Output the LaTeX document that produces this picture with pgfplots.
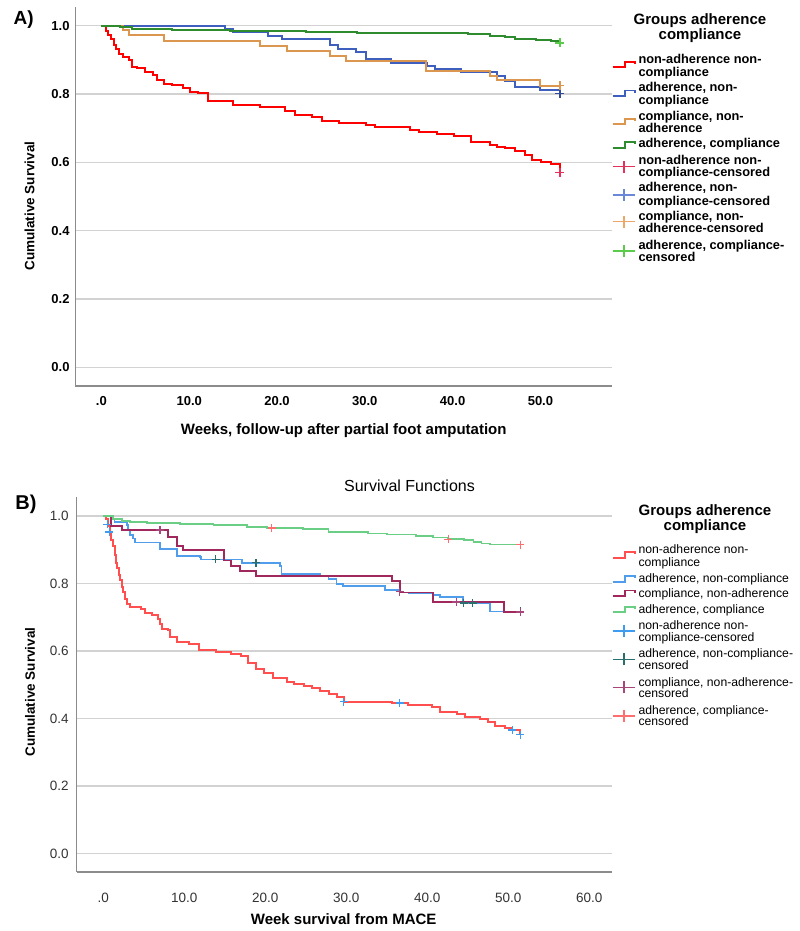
\documentclass[border=0pt]{standalone}
\usepackage{pgfplots}
\usepackage{pgfplotstable}
\pgfplotsset{compat=1.18}
\usepackage{fontspec}
\setmainfont{Liberation Sans}

\definecolor{axisgray}{HTML}{8C8C8C}
\definecolor{gridgray}{HTML}{D2D2D2}
% top colours
\definecolor{tred}{HTML}{FF0000}
\definecolor{tblue}{HTML}{3F5FBF}
\definecolor{torange}{HTML}{DB9650}
\definecolor{tgreen}{HTML}{2E8B2E}
\definecolor{tcred}{HTML}{E6305A}
\definecolor{tcblue}{HTML}{6A88D8}
\definecolor{tcorange}{HTML}{EDA868}
\definecolor{tcgreen}{HTML}{5ACB4A}
% bottom colours
\definecolor{bred}{HTML}{FF4F4F}
\definecolor{bblue}{HTML}{4F9DEB}
\definecolor{bmaroon}{HTML}{A0285C}
\definecolor{bgreen}{HTML}{6ACF85}
\definecolor{bclblue}{HTML}{3D9CF0}
\definecolor{bcteal}{HTML}{2A6F70}
\definecolor{bcmaroon}{HTML}{A8457A}
\definecolor{bcsalmon}{HTML}{FF6E6E}

\pgfplotstableread{
t S
0 1.0
0.5 0.985
0.8 0.972
1.1 0.962
1.4 0.943
1.7 0.933
2.0 0.918
2.5 0.909
3.1 0.899
3.5 0.880
4.0 0.875
5.0 0.865
5.9 0.855
6.3 0.841
7.1 0.831
8.0 0.826
9.3 0.818
10.1 0.807
11.0 0.802
12.1 0.779
15.0 0.768
18.1 0.761
20.9 0.750
22.0 0.740
24.0 0.734
25.1 0.722
27.1 0.716
30.1 0.709
31.2 0.703
35.1 0.695
36.2 0.690
37.0 0.688
38.2 0.683
40.1 0.677
42.1 0.659
44.2 0.651
45.1 0.646
46.0 0.641
47.1 0.632
48.2 0.622
49.0 0.607
50.1 0.600
51.2 0.596
52.2 0.571
}\topred

\pgfplotstableread{
t S
0 1.0
14.1 0.990
15.0 0.981
19.0 0.971
20.6 0.961
26.0 0.944
27.0 0.933
29.0 0.922
30.1 0.902
33.0 0.892
37.1 0.882
38.0 0.873
41.0 0.864
45.0 0.852
46.0 0.838
47.1 0.822
49.9 0.812
52.2 0.801
}\topblue

\pgfplotstableread{
t S
0 1.0
2.5 0.987
3.1 0.972
7.1 0.956
18.1 0.941
21.1 0.927
26.0 0.912
27.9 0.897
37.0 0.867
44.2 0.853
45.1 0.840
49.9 0.825
52.2 0.825
}\toporange

\pgfplotstableread{
t S
0 1.0
2.1 0.996
3.5 0.991
8.0 0.988
14.6 0.986
19.0 0.984
23.3 0.982
29.1 0.980
34.2 0.978
41.8 0.975
44.2 0.971
46.0 0.966
47.1 0.962
49.5 0.958
51.2 0.955
52.2 0.952
}\topgreen

\pgfplotstableread{
t S
0 1.0
0.4 0.99
0.6 0.97
0.8 0.95
1.0 0.93
1.2 0.91
1.4 0.885
1.6 0.86
1.75 0.845
1.9 0.825
2.1 0.81
2.3 0.79
2.5 0.775
2.7 0.755
2.9 0.74
3.3 0.730
4.7 0.724
5.1 0.711
6.0 0.706
6.8 0.696
7.0 0.680
7.3 0.666
8.0 0.661
8.2 0.642
9.1 0.627
10.6 0.620
11.8 0.604
13.9 0.597
15.8 0.592
17.0 0.586
17.9 0.563
18.8 0.546
19.8 0.535
20.9 0.519
22.7 0.508
23.6 0.501
24.8 0.495
25.8 0.489
26.8 0.480
27.9 0.472
28.8 0.462
29.7 0.450
35.7 0.446
37.6 0.441
40.6 0.434
41.6 0.419
43.7 0.412
44.6 0.404
46.5 0.399
47.5 0.389
48.4 0.377
49.6 0.372
50.5 0.366
51.5 0.352
}\botred

\pgfplotstableread{
t S
0 1.0
1.0 0.990
1.4 0.982
2.9 0.972
3.1 0.957
3.3 0.943
3.7 0.933
3.9 0.921
7.0 0.901
9.1 0.881
11.9 0.878
12.1 0.871
17.1 0.861
21.8 0.852
22.0 0.829
26.8 0.822
27.8 0.814
28.8 0.799
29.6 0.792
34.8 0.780
36.6 0.773
37.7 0.770
40.7 0.765
41.6 0.760
44.4 0.742
47.7 0.717
51.5 0.717
}\botblue

\pgfplotstableread{
t S
0 1.0
1.0 0.970
2.3 0.958
8.0 0.938
9.1 0.911
9.9 0.898
14.9 0.868
15.8 0.852
16.9 0.836
18.85 0.822
35.6 0.806
36.6 0.773
40.7 0.745
49.5 0.715
51.5 0.715
}\botmaroon

\pgfplotstableread{
t S
0 1.0
1.2 0.990
2.3 0.985
3.3 0.982
5.4 0.980
9.5 0.977
13.6 0.974
15.6 0.972
17.7 0.967
20.2 0.964
24.7 0.960
27.8 0.952
32.7 0.948
35.0 0.945
38.6 0.941
40.7 0.936
42.6 0.931
44.5 0.928
45.7 0.923
46.7 0.918
47.7 0.915
51.5 0.915
}\botgreen

\newcommand\fs[1]{\fontsize{#1bp}{#1bp}\selectfont}
\newcommand\legT{\bfseries\fs{12.8}}
\newcommand\legB{\fs{12.2}}
% legend text line: font, centre py, text
\newcommand\lt[3]{\node[anchor=base west,inner sep=0pt,font=#1] at (638.3,{927.2-#2}) {#3};}
% step symbol: colour, centre py
\newcommand\lstep[2]{\draw[#1,line width=1.8bp] (612.7,{931-#2-2.8}) -- (625,{931-#2-2.8}) -- (625,{931-#2+2.8}) -- (635,{931-#2+2.8}) -- (635,{931-#2+0.6});}
% censor symbol
\newcommand\lplus[2]{\draw[#1,line width=1.3bp] (612.7,{931-#2}) -- (635,{931-#2}) (624,{931-#2-6}) -- (624,{931-#2+6});}

\pgfplotsset{kmaxis/.style={
  scale only axis, anchor=south west,
  axis x line*=bottom, axis y line*=left,
  axis line style={draw=axisgray, line width=1.6bp, -},
  major tick length=0pt,
  ymin=-0.055, ymax=1.056,
  ytick={0,0.2,0.4,0.6,0.8,1},
  yticklabels={0.0,0.2,0.4,0.6,0.8,1.0},
  ymajorgrids,
  major grid style={draw=gridgray, line width=1.3bp},
  clip=false,
}}

\begin{document}
\begin{tikzpicture}
\useasboundingbox (0bp,0bp) rectangle (800bp,931bp);

% ---------------- A) ----------------
\begin{axis}[kmaxis,
  at={(75.4bp,545bp)}, width=536.6bp, height=379.3bp,
  xmin=-2.96, xmax=58.15,
  xtick={0,10,20,30,40,50},
  xticklabels={.0,10.0,20.0,30.0,40.0,50.0},
  tick label style={font=\bfseries\fs{13}, text=black},
  xticklabel style={anchor=north, inner sep=0pt, yshift=-10bp},
  yticklabel style={anchor=east, inner sep=0pt, xshift=-5.7bp},
]
\addplot[const plot, tred, line width=2bp] table[x=t,y=S] {\topred};
\addplot[const plot, tblue, line width=2bp] table[x=t,y=S] {\topblue};
\addplot[const plot, torange, line width=2bp] table[x=t,y=S] {\toporange};
\addplot[const plot, tgreen, line width=2bp] table[x=t,y=S] {\topgreen};
\addplot[only marks, mark=+, mark size=4.5bp, tcred, line width=1.5bp] coordinates {(52.2,0.571)};
\addplot[only marks, mark=+, mark size=4.5bp, tblue!80!black, line width=1.5bp] coordinates {(52.2,0.801)};
\addplot[only marks, mark=+, mark size=4.5bp, torange, line width=1.5bp] coordinates {(52.2,0.825)};
\addplot[only marks, mark=+, mark size=4.5bp, tcgreen, line width=1.5bp] coordinates {(52.2,0.950)};
\end{axis}

% ---------------- B) ----------------
\begin{axis}[kmaxis,
  at={(76.5bp,59bp)}, width=535.5bp, height=375bp,
  xmin=-3.3, xmax=62.8,
  xtick={0,10,20,30,40,50,60},
  xticklabels={.0,10.0,20.0,30.0,40.0,50.0,60.0},
  tick label style={font=\fs{13.5}, text=black!80},
  xticklabel style={anchor=north, inner sep=0pt, yshift=-21.2bp},
  yticklabel style={anchor=east, inner sep=0pt, xshift=-7.6bp},
]
\addplot[const plot, bred, line width=2bp] table[x=t,y=S] {\botred};
\addplot[const plot, bblue, line width=1.8bp] table[x=t,y=S] {\botblue};
\addplot[const plot, bmaroon, line width=1.9bp] table[x=t,y=S] {\botmaroon};
\addplot[const plot, bgreen, line width=1.8bp] table[x=t,y=S] {\botgreen};
\addplot[only marks, mark=+, mark size=4bp, bclblue, line width=1.3bp] coordinates {(0.5,0.975) (0.75,0.952) (29.7,0.450) (36.6,0.446) (50.5,0.366) (51.5,0.352)};
\addplot[only marks, mark=+, mark size=4bp, bcteal, line width=1.3bp] coordinates {(13.9,0.871) (18.85,0.861) (44.5,0.742) (45.6,0.742) (51.5,0.717)};
\addplot[only marks, mark=+, mark size=4bp, bcmaroon, line width=1.3bp] coordinates {(7.0,0.958) (36.6,0.775) (43.6,0.745) (51.5,0.715)};
\addplot[only marks, mark=+, mark size=4bp, bcsalmon, line width=1.3bp] coordinates {(20.8,0.964) (42.6,0.931) (51.5,0.915)};
\end{axis}

\begin{scope}[x=1bp,y=1bp]
\node[anchor=base west, inner sep=0pt, font=\bfseries\fs{19}] at (13.4,906.5) {A)};
\node[rotate=90, inner sep=0pt, font=\bfseries\fs{13.5}] at (29.5,725) {Cumulative Survival};
\node[anchor=base, inner sep=0pt, font=\bfseries\fs{15}] at (343.7,496) {Weeks, follow-up after partial foot amputation};

% legend A
\node[anchor=base, inner sep=0pt, font=\bfseries\fs{15}] at (700,{931-25}) {Groups adherence};
\node[anchor=base, inner sep=0pt, font=\bfseries\fs{15}] at (700,{931-40}) {compliance};
\lstep{tred}{64.5}
\lt{\legT}{60}{non-adherence non-}
\lt{\legT}{73}{compliance}
\lstep{tblue}{93.3}
\lt{\legT}{88}{adherence, non-}
\lt{\legT}{101}{compliance}
\lstep{torange}{121.5}
\lt{\legT}{117}{compliance, non-}
\lt{\legT}{129}{adherence}
\lstep{tgreen}{145}
\lt{\legT}{144}{adherence, compliance}
\lplus{tcred}{166.7}
\lt{\legT}{161}{non-adherence non-}
\lt{\legT}{173}{compliance-censored}
\lplus{tcblue}{195}
\lt{\legT}{188}{adherence, non-}
\lt{\legT}{202}{compliance-censored}
\lplus{tcorange}{221.7}
\lt{\legT}{217}{compliance, non-}
\lt{\legT}{229}{adherence-censored}
\lplus{tcgreen}{251}
\lt{\legT}{246}{adherence, compliance-}
\lt{\legT}{258}{censored}

\node[anchor=base west, inner sep=0pt, font=\bfseries\fs{20}] at (15.3,421.5) {B)};
\node[anchor=base, inner sep=0pt, font=\fs{16}] at (409.5,439.3) {Survival Functions};
\node[rotate=90, inner sep=0pt, font=\bfseries\fs{13.5}] at (30,239) {Cumulative Survival};
\node[anchor=base, inner sep=0pt, font=\bfseries\fs{15}] at (343.7,7) {Week survival from MACE};

% legend B
\node[anchor=base, inner sep=0pt, font=\bfseries\fs{15}] at (705,{931-516}) {Groups adherence};
\node[anchor=base, inner sep=0pt, font=\bfseries\fs{15}] at (705,{931-531}) {compliance};
\lstep{bred}{555}
\lt{\legB}{550}{non-adherence non-}
\lt{\legB}{562.7}{compliance}
\lstep{bblue}{579}
\lt{\legB}{579}{adherence, non-compliance}
\lstep{bmaroon}{593.3}
\lt{\legB}{593.3}{compliance, non-adherence}
\lstep{bgreen}{609.5}
\lt{\legB}{609.3}{adherence, compliance}
\lplus{bclblue}{631}
\lt{\legB}{626}{non-adherence non-}
\lt{\legB}{637.3}{compliance-censored}
\lplus{bcteal}{659.3}
\lt{\legB}{654}{adherence, non-compliance-}
\lt{\legB}{665.7}{censored}
\lplus{bcmaroon}{687.3}
\lt{\legB}{682.3}{compliance, non-adherence-}
\lt{\legB}{694}{censored}
\lplus{bcsalmon}{716}
\lt{\legB}{710.7}{adherence, compliance-}
\lt{\legB}{721.7}{censored}
\end{scope}
\end{tikzpicture}
\end{document}
